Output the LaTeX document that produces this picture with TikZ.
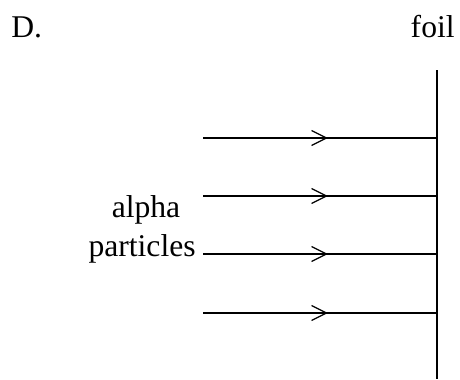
\documentclass[tikz,border=0pt]{standalone}
\usepackage{fontspec}
\setmainfont{Liberation Serif}
\usepackage{tikz}
\usetikzlibrary{arrows.meta,positioning,calc,decorations.markings}
\tikzset{
  label text/.style={
    inner sep=0pt,
    font=\fontsize{18}{22}\selectfont
  },
  foil line/.style={
    line width=1pt
  },
  beam/.style={
    line width=1pt,
    postaction={decorate},
    decoration={markings,
      mark=at position 0.534 with {\arrow[line width=0.7pt]{Straight Barb[length=3mm,width=3mm]}}}
  }
}
\begin{document}
\begin{tikzpicture}
  \useasboundingbox (0,0) rectangle (9.2,-7.58);

  % Labels
  \node[label text, anchor=base west] (optD) at (0.22,-0.74) {D.};
  \node[label text, anchor=base east] (foil) at (9.1,-0.74) {foil};

  % Foil
  \coordinate (ftop) at (8.74,-1.4);
  \coordinate (fbot) at (8.74,-7.58);
  \draw[foil line] (ftop) -- (fbot);

  % Alpha particles
  \foreach \i/\y in {1/-2.76, 2/-3.92, 3/-5.08, 4/-6.26} {
    \coordinate (a\i) at (4.06,\y);
    \coordinate (f\i) at (8.74,\y);
    \draw[beam] (a\i) -- (f\i);
  }

  \node[label text, anchor=base east] (particles) at (3.92,-5.12) {particles};
  \node[label text, anchor=base] (alpha) at (2.92,-4.34) {alpha};
\end{tikzpicture}
\end{document}
